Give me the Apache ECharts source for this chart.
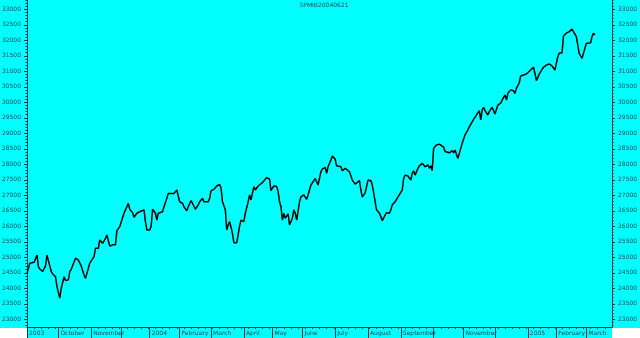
<!DOCTYPE html>
<html><head><meta charset="utf-8">
<script src="https://cdn.jsdelivr.net/npm/echarts@6/dist/echarts.min.js"></script>
<style>html,body{margin:0;padding:0;background:#fff}#c{width:640px;height:338px}</style>
</head><body><div id="c"></div><script>
const chartTitle = 'SPMIB20040621';
// trading-day index since 1 Sep 2003
const dayIndex = [0,2,3,5,7,8,9,11,13,14,15,17,18,20,21,23,24,26,27,29,30,31,34,36,38,40,41,42,44,47,48,50,51,53,55,56,58,60,62,63,65,68,69,71,72,74,75,77,79,80,82,83,84,86,87,88,90,91,92,93,95,96,98,99,
100,103,105,106,107,109,110,112,113,115,116,118,120,121,123,124,125,127,128,129,131,133,135,136,137,139,140,141,142,143,144,145,147,148,149,150,152,153,155,156,157,159,160,162,163,165,166,168,170,171,172,173,175,176,177,178,179,180,181,183,184,186,187,188,189,191,192,194,196,197,199,200,
202,203,204,206,207,209,210,211,213,214,216,217,218,220,221,223,224,226,227,228,230,231,233,234,235,237,238,239,241,242,243,244,245,247,248,249,251,252,254,255,256,258,260,261,263,264,265,267,269,270,271,272,274,275,277,278,279,281,282,283,284,285,287,289,290,292,293,294,296,297,298,299,300,302,303,305,306,
307,309,310,312,313,314,316,317,318,319,320,321,323,324,326,327,328,330,332,333,335,336,337,338,339,341,342,343,345,346,348,350,351,353,354,355,356,357,358,359,361,362,364,365,366,368,369,370,371,372,373,375,376,378,379,380,382,383,385,386,387,389,390,391,392,393,395,396,397,398];
const closeValues = [24480,24810,24860,24840,25070,24700,24620,24540,24720,25070,25070,24540,24460,24370,24050,23680,24000,24370,24250,24270,24540,24610,24970,24910,24720,24430,24320,24480,24810,25020,25290,25290,25560,25450,25610,25720,25360,25400,25400,25860,25990,26420,26470,26740,26550,26440,26290,26420,26470,26440,26530,26150,25880,25880,25990,26550,26420,26200,26420,26400,26470,26630,26900,27060,
27040,27060,27170,27230,26790,26740,26630,26500,26630,26830,26790,26550,26690,26790,26900,26790,26740,26790,26900,27150,27190,27300,27350,27230,26790,26530,25880,26040,26150,25970,25770,25470,25470,25720,26010,26200,26150,26420,26790,27010,26850,27280,27170,27300,27280,27410,27410,27570,27520,27150,27190,27300,27280,27120,26790,26630,26200,26420,26260,26400,26040,26260,26530,26420,26200,26790,26950,27010,26870,27010,27330,27390,
27540,27490,27330,27760,27840,27900,27710,27920,28140,28270,28160,27950,27900,27920,27790,27870,27900,27760,27710,27490,27360,27330,27470,27170,26940,27080,27280,27490,27470,27330,27080,26790,26530,26420,26310,26180,26360,26440,26420,26530,26690,26790,26950,26900,27170,27550,27650,27620,27490,27710,27790,27650,27870,27950,28030,28010,27920,27980,27870,27950,27790,28520,28620,28650,28590,28550,28410,28350,28370,28330,28440,28370,28460,28190,28250,28680,28730,
28950,29110,29210,29370,29450,29430,29660,29730,29430,29750,29840,29730,29590,29700,29840,29730,29620,29910,29970,30070,30240,30070,30290,30340,30400,30370,30290,30450,30630,30850,30880,30910,30950,31040,31060,31130,30930,30700,30660,30910,31060,31130,31200,31150,31240,31170,31200,31040,31040,31470,31580,31600,32140,32230,32230,32280,32360,32330,32120,31850,31580,31420,31450,31740,31900,31960,31920,32120,32230,32170];
const yTickValues = [23000,23500,24000,24500,25000,25500,26000,26500,27000,27500,28000,28500,29000,29500,30000,30500,31000,31500,32000,32500,33000];
const monthStart = [0,22,45,66,86,107,129,152,172,193,216,239,262,285,306,328,351,371,392];
const monthLabels = ['2003','October','November','','2004','February','March','April','May','June','July','August','September','','November','','2005','February','March'];

const axisColor = '#0b3b4b';
const textColor = '#124a58';
const font = 'DejaVu Sans';
const X_MAX = 410, Y_MIN = 22750, Y_MAX = 33300;

const weekTicks = [];
for (let d = 0; d <= X_MAX; d += 5) weekTicks.push(d);
const yMinor = [];
for (let v = 22800; v <= Y_MAX; v += 100) yMinor.push(v);
const labelMap = {};
monthStart.forEach((m, i) => { labelMap[m] = monthLabels[i]; });

const chart = echarts.init(document.getElementById('c'), null, {renderer: 'canvas'});
function yAxisDef(pos, major) {
  return {
    type: 'value', position: pos, min: Y_MIN, max: Y_MAX, offset: 0,
    splitLine: {show: false},
    axisLine: {show: major, onZero: false, lineStyle: {color: axisColor, width: 1}},
    axisTick: {show: true, customValues: major ? yTickValues : yMinor, length: major ? 3 : 1.5,
               lineStyle: {color: axisColor, width: 1}},
    axisLabel: major ? {show: true, customValues: yTickValues, margin: 6, fontSize: 6,
               fontFamily: font, color: textColor, formatter: v => String(v)} : {show: false}
  };
}
chart.setOption({
  animation: false,
  backgroundColor: '#00ffff',
  grid: {left: 27, right: 28, top: 0, bottom: 11, containLabel: false, outerBoundsMode: 'none'},
  xAxis: [
    {type: 'value', position: 'bottom', min: 0, max: X_MAX, splitLine: {show: false},
     axisLine: {show: true, onZero: false, lineStyle: {color: axisColor, width: 1}},
     axisTick: {show: true, customValues: weekTicks, length: 2, lineStyle: {color: axisColor}},
     axisLabel: {show: false}},
    {type: 'value', position: 'bottom', min: 0, max: X_MAX, splitLine: {show: false},
     axisLine: {show: false, onZero: false},
     axisTick: {show: true, customValues: monthStart, length: 11, lineStyle: {color: axisColor}},
     axisLabel: {show: true, customValues: monthStart, formatter: v => labelMap[v] || '',
                 align: 'left', padding: [0, 0, 0, 2], margin: 3, fontSize: 6,
                 fontFamily: font, color: textColor}}
  ],
  yAxis: [yAxisDef('left', true), yAxisDef('left', false), yAxisDef('right', true), yAxisDef('right', false)],
  graphic: [
    {type: 'rect', shape: {x: 0, y: 328, width: 27, height: 10}, style: {fill: '#ffffff'}, z: 100},
    {type: 'rect', shape: {x: 612, y: 328, width: 28, height: 10}, style: {fill: '#ffffff'}, z: 100},
    {type: 'text', x: 324, y: 2, style: {text: chartTitle, fill: textColor, font: '6px "DejaVu Sans"', textAlign: 'center'}, z: 100}
  ],
  series: [{
    type: 'line', xAxisIndex: 0, yAxisIndex: 0, showSymbol: false, symbol: 'none',
    data: dayIndex.map((d, i) => [d, closeValues[i]]),
    lineStyle: {color: '#000000', width: 1.5}
  }]
});
</script></body></html>
